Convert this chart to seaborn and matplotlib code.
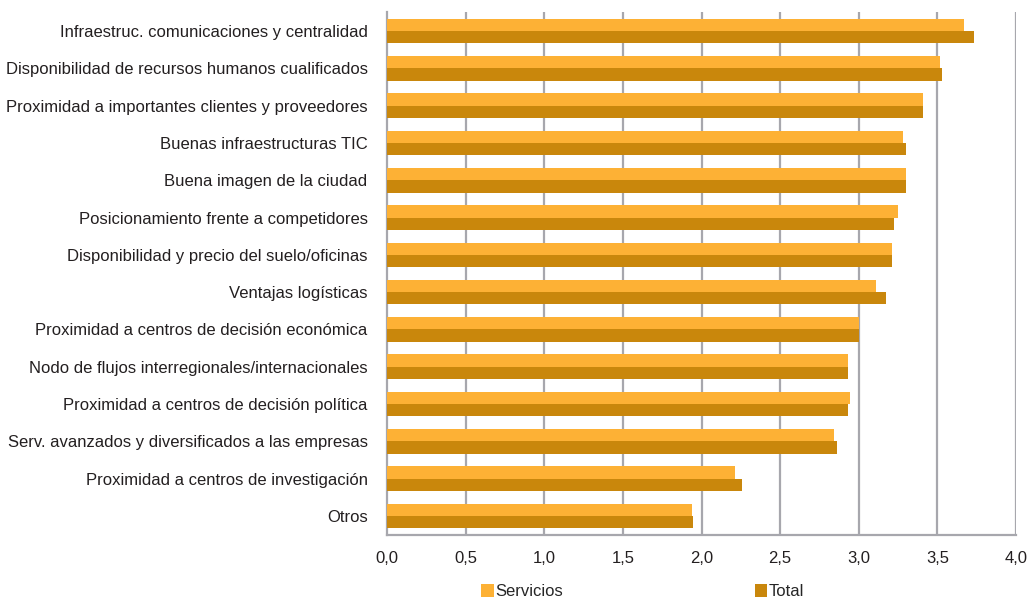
import matplotlib
matplotlib.use("Agg")
import matplotlib.pyplot as plt
import seaborn as sns
import pandas as pd
from matplotlib import font_manager

categories = [
    "Infraestruc. comunicaciones y centralidad",
    "Disponibilidad de recursos humanos cualificados",
    "Proximidad a importantes clientes y proveedores",
    "Buenas infraestructuras TIC",
    "Buena imagen de la ciudad",
    "Posicionamiento frente a competidores",
    "Disponibilidad y precio del suelo/oficinas",
    "Ventajas logísticas",
    "Proximidad a centros de decisión económica",
    "Nodo de flujos interregionales/internacionales",
    "Proximidad a centros de decisión política",
    "Serv. avanzados y diversificados a las empresas",
    "Proximidad a centros de investigación",
    "Otros",
]
servicios = [3.67, 3.515, 3.41, 3.28, 3.30, 3.25, 3.21, 3.11, 3.00, 2.93, 2.945, 2.84, 2.21, 1.94]
total = [3.73, 3.53, 3.41, 3.30, 3.30, 3.225, 3.21, 3.175, 3.00, 2.93, 2.93, 2.86, 2.255, 1.945]
series = ["Servicios", "Total"]
xticks = [0.0, 0.5, 1.0, 1.5, 2.0, 2.5, 3.0, 3.5, 4.0]

sns.set_theme(style="white")
names = {f.name for f in font_manager.fontManager.ttflist}
fam = "Liberation Sans Narrow" if "Liberation Sans Narrow" in names else "Liberation Sans"
plt.rcParams["font.family"] = [fam, "DejaVu Sans"]

df = pd.DataFrame({
    "Categoría": categories * 2,
    "Valor": servicios + total,
    "Serie": [series[0]] * len(categories) + [series[1]] * len(categories),
})

fig = plt.figure(figsize=(10.34, 6.01), dpi=100)
ax = fig.add_axes([0.3743, 0.1103, 0.6083, 0.8692])

palette = {"Servicios": "#FDB135", "Total": "#C9870C"}
sns.barplot(data=df, y="Categoría", x="Valor", hue="Serie", orient="h",
            palette=palette, width=0.66, gap=0, ax=ax, legend=True,
            saturation=1, zorder=3, linewidth=0, edgecolor="none")

ax.set_xlim(0, 4.0)
ax.set_ylim(len(categories) - 0.5, -0.5)
ax.set_xticks(xticks)
ax.set_xticklabels([f"{v:.1f}".replace(".", ",") for v in xticks])
ax.set_xlabel("")
ax.set_ylabel("")

grid_c = "#A7A7AD"
for v in xticks[1:]:
    ax.axvline(v, color=grid_c, lw=1.6, zorder=1)

for s in ["top", "right"]:
    ax.spines[s].set_visible(False)
for s in ["left", "bottom"]:
    ax.spines[s].set_color(grid_c)
    ax.spines[s].set_linewidth(1.6)

ax.tick_params(axis="y", which="major", length=0, labelsize=12, pad=14, colors="#231F20")
ax.set_yticks([i + 0.5 for i in range(-1, len(categories))], minor=True)
ax.tick_params(axis="y", which="minor", length=6, width=1.4, color=grid_c, direction="out")
ax.tick_params(axis="x", which="major", length=8, width=1.4, color=grid_c,
               direction="inout", labelsize=12, pad=8, labelcolor="#231F20")

handles, labels = ax.get_legend_handles_labels()
ax.get_legend().remove()
fig.legend(handles, labels, loc="lower left", bbox_to_anchor=(0.451, -0.022),
           ncol=2, frameon=False, fontsize=12, handlelength=0.75, handleheight=0.75,
           handletextpad=0.1, columnspacing=11.5)

fig.savefig("out.png", dpi=100)
